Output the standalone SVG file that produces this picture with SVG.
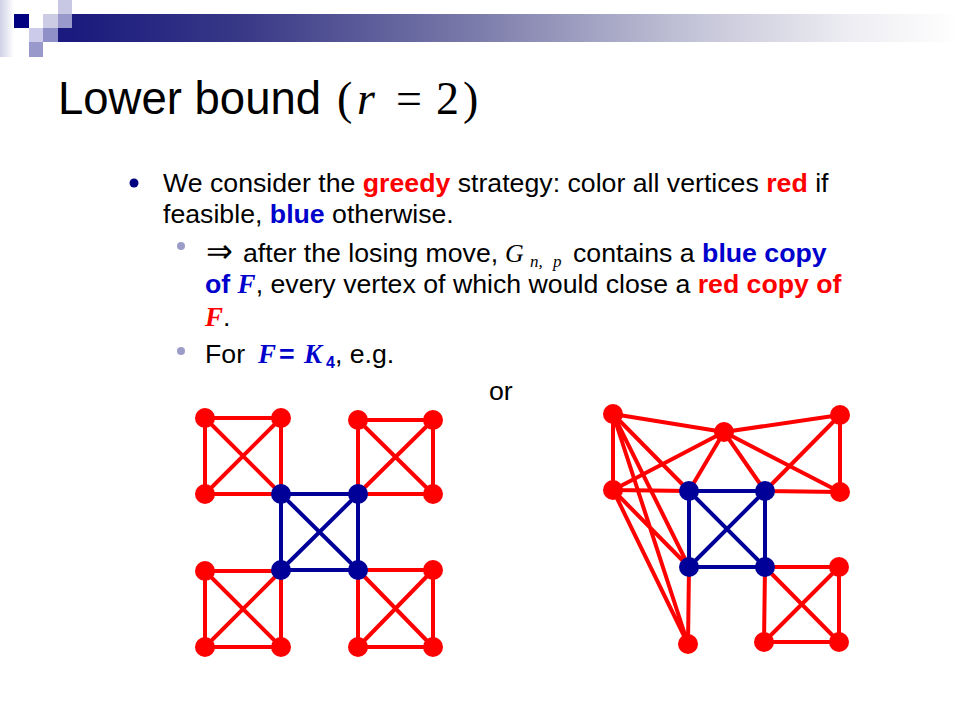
<svg xmlns="http://www.w3.org/2000/svg" width="960" height="720" viewBox="0 0 960 720">
<defs>
<linearGradient id="bar" x1="0" y1="0" x2="1" y2="0">
<stop offset="0" stop-color="#1a1a7e"/>
<stop offset="0.2" stop-color="#3a3a88"/>
<stop offset="0.45" stop-color="#7a7aaa"/>
<stop offset="0.7" stop-color="#c4c4d8"/>
<stop offset="0.88" stop-color="#eeeef3"/>
<stop offset="1" stop-color="#ffffff"/>
</linearGradient>
<linearGradient id="strip" x1="0" y1="0" x2="1" y2="0">
<stop offset="0" stop-color="#d0d0e8"/>
<stop offset="1" stop-color="#ffffff"/>
</linearGradient>
<style>
.t{font-family:"Liberation Sans",Arial,sans-serif;font-size:26.7px;fill:#000}
.title{font-family:"Liberation Sans",Arial,sans-serif;font-size:45.5px;fill:#000}
.ms{font-family:"Liberation Serif","Times New Roman",serif}
.m{font-family:"Liberation Serif","Times New Roman",serif;font-style:italic}
.mb{font-family:"Liberation Serif","Times New Roman",serif;font-style:italic;font-weight:bold}
.rb{fill:#ff0000;font-weight:bold}
.bb{fill:#0000cc;font-weight:bold}
.re{stroke:#ff0000;stroke-width:4;fill:none}
.be{stroke:#000099;stroke-width:4;fill:none}
.rn{fill:#ff0000}
.bn{fill:#000099}
</style>
</defs>
<rect width="960" height="720" fill="#ffffff"/>
<g id="decoration">
<rect x="0" y="0" width="14" height="57" fill="url(#strip)"/>
<rect x="14" y="14" width="15" height="14" fill="#000080"/>
<rect x="58" y="0" width="14" height="14" fill="#c8c8e4"/>
<rect x="43" y="14" width="15" height="14" fill="#ccccE4"/>
<rect x="58" y="14" width="14" height="14" fill="#9999cc"/>
<rect x="29" y="28" width="14" height="14" fill="#ccccea"/>
<rect x="43" y="28" width="15" height="14" fill="#9090c8"/>
<rect x="58" y="28" width="14" height="14" fill="#1a1a80"/>
<rect x="29" y="42" width="14" height="15" fill="#9999cc"/>
<rect x="72" y="14" width="888" height="28" fill="url(#bar)"/>
</g>
<g id="title">
<text class="title" x="58" y="114">Lower bound <tspan class="ms" font-size="46" x="337">(</tspan><tspan class="m" font-size="46" x="357">r</tspan><tspan class="ms" font-size="46" x="396">=</tspan><tspan class="ms" font-size="46" x="436">2</tspan><tspan class="ms" font-size="46" x="463">)</tspan></text>
</g>
<g id="text">
<circle cx="134" cy="183" r="4.5" fill="#000080"/>
<text class="t" x="163" y="192">We consider the <tspan class="rb">greedy</tspan> strategy: color all vertices <tspan class="rb">red</tspan> if</text>
<text class="t" x="163" y="223">feasible, <tspan class="bb">blue</tspan> otherwise.</text>
<circle cx="181" cy="246" r="4" fill="#9c9cc8"/>
<text class="t" x="205" y="262"><tspan font-family="DejaVu Sans,sans-serif" font-size="32" x="206">⇒</tspan><tspan x="243">after the losing move,</tspan><tspan class="m" font-size="26" x="505">G</tspan><tspan class="m" font-size="17" x="530" dy="5">n, </tspan><tspan class="m" font-size="17" x="553">p</tspan><tspan x="573" dy="-5">contains a </tspan><tspan class="bb">blue copy</tspan></text>
<text class="t" x="205" y="293"><tspan class="bb">of </tspan><tspan class="mb" fill="#0000cc" font-size="27">F</tspan>, every vertex of which would close a <tspan class="rb">red copy of</tspan></text>
<text class="t" x="205" y="326"><tspan class="mb" fill="#ff0000" font-size="27">F</tspan>.</text>
<circle cx="181" cy="351" r="4" fill="#9c9cc8"/>
<text class="t" x="205" y="363">For<tspan class="mb" fill="#0000cc" font-size="27" x="258">F</tspan><tspan class="bb" x="279">=</tspan><tspan class="mb" fill="#0000cc" font-size="27" x="304">K</tspan><tspan class="bb" font-size="16" x="326" dy="5">4</tspan><tspan dy="-5">, e.g.</tspan></text>
<text class="t" x="489" y="400">or</text>
</g>
<g id="connectors">
<g id="left-edges">
<path class="re" d="M205 418H281V494H205ZM205 418L281 494M281 418L205 494"/>
<path class="re" d="M358 420H433V494H358ZM358 420L433 494M433 420L358 494"/>
<path class="re" d="M205 571H281V647H205ZM205 571L281 647M281 571L205 647"/>
<path class="re" d="M358 570H433V647H358ZM358 570L433 647M433 570L358 647"/>
<path class="be" d="M281 494H358V570H281ZM281 494L358 570M358 494L281 570"/>
</g>
<g id="right-edges">
<path class="re" d="M613 414L724 432M613 414L613 490M724 432L613 490M613 414L689 491M724 432L689 491M613 490L689 491"/>
<path class="re" d="M613 414L689 567M613 490L689 567M613 414L688 644M613 490L688 644M689 567L688 644"/>
<path class="re" d="M724 432L840 415M840 415L840 492M724 432L840 492M724 432L765 491M840 415L765 491M765 491L840 492"/>
<path class="re" d="M765 567L839 567M765 567L764 642M765 567L839 642M839 567L764 642M839 567L839 642M764 642L839 642"/>
<path class="be" d="M689 491H765V567H689ZM689 491L765 567M765 491L689 567"/>
</g>
</g>
<g id="nodes">
<g id="L-a1"><circle class="rn" cx="205" cy="418" r="10"/></g>
<g id="L-a2"><circle class="rn" cx="281" cy="418" r="10"/></g>
<g id="L-a3"><circle class="rn" cx="205" cy="494" r="10"/></g>
<g id="L-c1"><circle class="rn" cx="358" cy="420" r="10"/></g>
<g id="L-c2"><circle class="rn" cx="433" cy="420" r="10"/></g>
<g id="L-c3"><circle class="rn" cx="433" cy="494" r="10"/></g>
<g id="L-d1"><circle class="rn" cx="205" cy="571" r="10"/></g>
<g id="L-d2"><circle class="rn" cx="205" cy="647" r="10"/></g>
<g id="L-d3"><circle class="rn" cx="281" cy="647" r="10"/></g>
<g id="L-e1"><circle class="rn" cx="433" cy="570" r="10"/></g>
<g id="L-e2"><circle class="rn" cx="358" cy="647" r="10"/></g>
<g id="L-e3"><circle class="rn" cx="433" cy="647" r="10"/></g>
<g id="L-b1"><circle class="bn" cx="281" cy="494" r="10"/></g>
<g id="L-b2"><circle class="bn" cx="358" cy="494" r="10"/></g>
<g id="L-b3"><circle class="bn" cx="281" cy="570" r="10"/></g>
<g id="L-b4"><circle class="bn" cx="358" cy="570" r="10"/></g>
<g id="R-A"><circle class="rn" cx="613" cy="414" r="10"/></g>
<g id="R-B"><circle class="rn" cx="724" cy="432" r="10"/></g>
<g id="R-C"><circle class="rn" cx="840" cy="415" r="10"/></g>
<g id="R-D"><circle class="rn" cx="613" cy="490" r="10"/></g>
<g id="R-G"><circle class="rn" cx="840" cy="492" r="10"/></g>
<g id="R-J"><circle class="rn" cx="839" cy="567" r="10"/></g>
<g id="R-K"><circle class="rn" cx="688" cy="644" r="10"/></g>
<g id="R-L"><circle class="rn" cx="764" cy="642" r="10"/></g>
<g id="R-M"><circle class="rn" cx="839" cy="642" r="10"/></g>
<g id="R-E"><circle class="bn" cx="689" cy="491" r="10"/></g>
<g id="R-F"><circle class="bn" cx="765" cy="491" r="10"/></g>
<g id="R-H"><circle class="bn" cx="689" cy="567" r="10"/></g>
<g id="R-I"><circle class="bn" cx="765" cy="567" r="10"/></g>
</g>
</svg>
